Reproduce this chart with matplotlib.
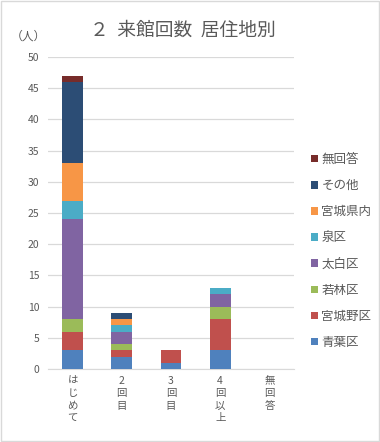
import numpy as np
import matplotlib
matplotlib.use('Agg')
import matplotlib.pyplot as plt
from matplotlib.patches import Rectangle

plt.rcParams['font.family'] = ['Noto Sans CJK JP', 'DejaVu Sans']

# data
categories = ['はじめて', '2\n回\n目', '3\n回\n目', '4\n回\n以\n上', '無\n回\n答']
series = ['青葉区', '宮城野区', '若林区', '太白区', '泉区', '宮城県内', 'その他', '無回答']
values = {
    '青葉区':   [3, 2, 1, 3, 0],
    '宮城野区': [3, 1, 2, 5, 0],
    '若林区':   [2, 1, 0, 2, 0],
    '太白区':   [16, 2, 0, 2, 0],
    '泉区':     [3, 1, 0, 1, 0],
    '宮城県内': [6, 1, 0, 0, 0],
    'その他':   [13, 1, 0, 0, 0],
    '無回答':   [1, 0, 0, 0, 0],
}
colors = ['#4F81BD', '#C0504D', '#9BBB59', '#8064A2', '#4BACC6', '#F79646', '#2C4D75', '#772C2A']

fig = plt.figure(figsize=(3.8, 4.42), dpi=100)
ax = fig.add_axes([48/380, 1-369/442, (294-48)/380, (369-57)/442])

x = np.arange(len(categories))
bottom = np.zeros(len(categories))
for name, c in zip(series, colors):
    v = np.array(values[name], dtype=float)
    ax.bar(x, v, width=0.42, bottom=bottom, color=c, label=name, zorder=3)
    bottom += v

ax.set_ylim(0, 50)
ax.set_xlim(-0.5, len(categories) - 0.5)
ax.set_yticks(range(0, 51, 5))
ax.yaxis.grid(True, color='#D9D9D9', linewidth=0.9, zorder=0)
for s in ['top', 'right', 'left']:
    ax.spines[s].set_visible(False)
ax.spines['bottom'].set_color('#D9D9D9')
ax.tick_params(axis='both', length=0, colors='#595959', labelsize=7.5)
ax.tick_params(axis='y', pad=6)
ax.set_xticks(x)
ax.set_xticklabels(['\n'.join(categories[0])] + categories[1:], linespacing=1.3, va='top')
ax.tick_params(axis='x', pad=5)

fig.text(183/380, 1-30/442, '２  来館回数  居住地別', ha='center', va='center',
         fontsize=13.5, color='#595959')
fig.text(28/380, 1-36/442, '（人）', ha='center', va='center', fontsize=8.5, color='#595959')

h, l = ax.get_legend_handles_labels()
ax.legend(h[::-1], l[::-1], loc='center left', bbox_to_anchor=(300/380, 1-251/442),
          bbox_transform=fig.transFigure, frameon=False, fontsize=9,
          handlelength=0.55, handleheight=0.55, handletextpad=0.25, labelspacing=1.05,
          labelcolor='#595959')

fig.patches.append(Rectangle((0.002, 0.002), 0.996, 0.996, transform=fig.transFigure,
                             fill=False, edgecolor='#D9D9D9', linewidth=1))

fig.savefig('out.png', dpi=100)
